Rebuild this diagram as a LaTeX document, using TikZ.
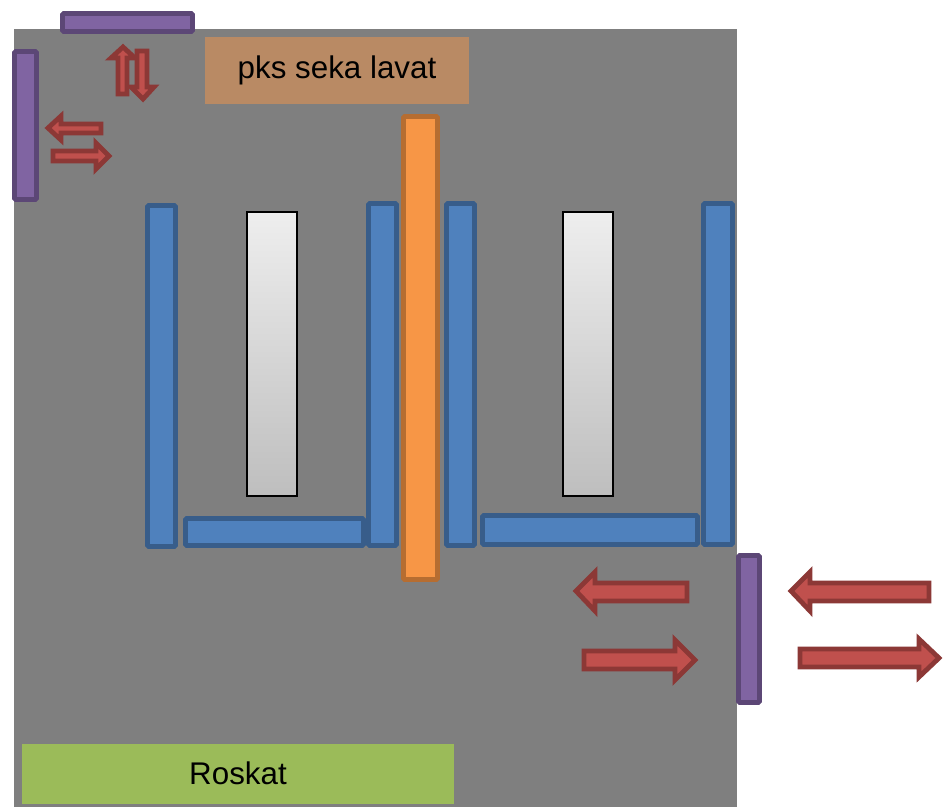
\documentclass[tikz,border=0pt]{standalone}
\usepackage{fontspec}
\setmainfont{Liberation Sans}
\definecolor{bgray}{RGB}{127,127,127}
\definecolor{titlebrown}{RGB}{185,138,100}
\definecolor{rgreen}{RGB}{155,187,89}
\definecolor{bfill}{RGB}{79,129,189}
\definecolor{bline}{RGB}{56,93,138}
\definecolor{pfill}{RGB}{128,100,162}
\definecolor{pline}{RGB}{92,71,118}
\definecolor{ofill}{RGB}{247,150,70}
\definecolor{oline}{RGB}{182,109,49}
\definecolor{wtop}{RGB}{238,238,238}
\definecolor{wbot}{RGB}{190,190,190}
\definecolor{rfill}{RGB}{192,80,77}
\definecolor{rline}{RGB}{140,56,54}
\begin{document}
\begin{tikzpicture}[x=0.75pt,y=-0.75pt,
  bluebar/.style={fill=bfill,draw=bline,line width=3.6pt,rounded corners=1pt},
  purplebar/.style={fill=pfill,draw=pline,line width=3.6pt,rounded corners=1pt},
  orangebar/.style={fill=ofill,draw=oline,line width=3.6pt,rounded corners=1pt},
  whitebar/.style={top color=wtop,bottom color=wbot,draw=black,line width=1.6pt},
  redarrow/.style={fill=rfill,draw=rline,line width=3.6pt,line join=miter},
  label/.style={font=\fontsize{23.5}{28}\selectfont,text=black}]
\useasboundingbox (0,0) rectangle (943,807);
% background
\fill[white] (0,0) rectangle (943,807);
\fill[bgray] (14,29) rectangle (737,807);
% title box
\fill[titlebrown] (205,37) rectangle (469,104);
\node[label] (title) at (337,70) {pks seka lavat};
% green box
\fill[rgreen] (22,744) rectangle (454,804);
\node[label] (roskat) at (238,773) {Roskat};
% purple bars
\draw[purplebar] (62.5,13.5) rectangle (192.5,31.5);
\draw[purplebar] (14.5,51.5) rectangle (36.5,199.5);
\draw[purplebar] (738.5,555.5) rectangle (759.5,702.5);
% blue bars
\draw[bluebar] (147.5,205.5) rectangle (175.5,546.5);
\draw[bluebar] (185.5,518.5) rectangle (363.5,545.5);
\draw[bluebar] (368.5,203.5) rectangle (396.5,545.5);
\draw[bluebar] (446.5,203.5) rectangle (474.5,545.5);
\draw[bluebar] (482.5,515.5) rectangle (697.5,544.5);
\draw[bluebar] (703.5,203.5) rectangle (732.5,544.5);
% orange bar
\draw[orangebar] (403.5,116.5) rectangle (437.5,579.5);
% white bars
\draw[whitebar] (247,212) rectangle (297,496);
\draw[whitebar] (563,212) rectangle (613,496);
% top-left arrows
\draw[redarrow] (123,47) -- (135,58) -- (127,58) -- (127,94) -- (118,94) -- (118,58) -- (111,58) -- cycle;
\draw[redarrow] (143,99) -- (154,87) -- (147,87) -- (147,51) -- (137,51) -- (137,87) -- (131,87) -- cycle;
\draw[redarrow] (48,128) -- (61,116) -- (61,124) -- (101,124) -- (101,133) -- (61,133) -- (61,140) -- cycle;
\draw[redarrow] (109,156) -- (96,143) -- (96,151) -- (53,151) -- (53,161) -- (96,161) -- (96,169) -- cycle;
% right arrows
\draw[redarrow] (576,591) -- (595,572) -- (595,583) -- (687,583) -- (687,601) -- (595,601) -- (595,611) -- cycle;
\draw[redarrow] (695,660) -- (675,640) -- (675,651) -- (584,651) -- (584,669) -- (675,669) -- (675,680) -- cycle;
\draw[redarrow] (791,591) -- (810,572) -- (810,583) -- (929,583) -- (929,601) -- (810,601) -- (810,611) -- cycle;
\draw[redarrow] (939,658) -- (919,639) -- (919,649) -- (800,649) -- (800,667) -- (919,667) -- (919,677) -- cycle;
\end{tikzpicture}
\end{document}
